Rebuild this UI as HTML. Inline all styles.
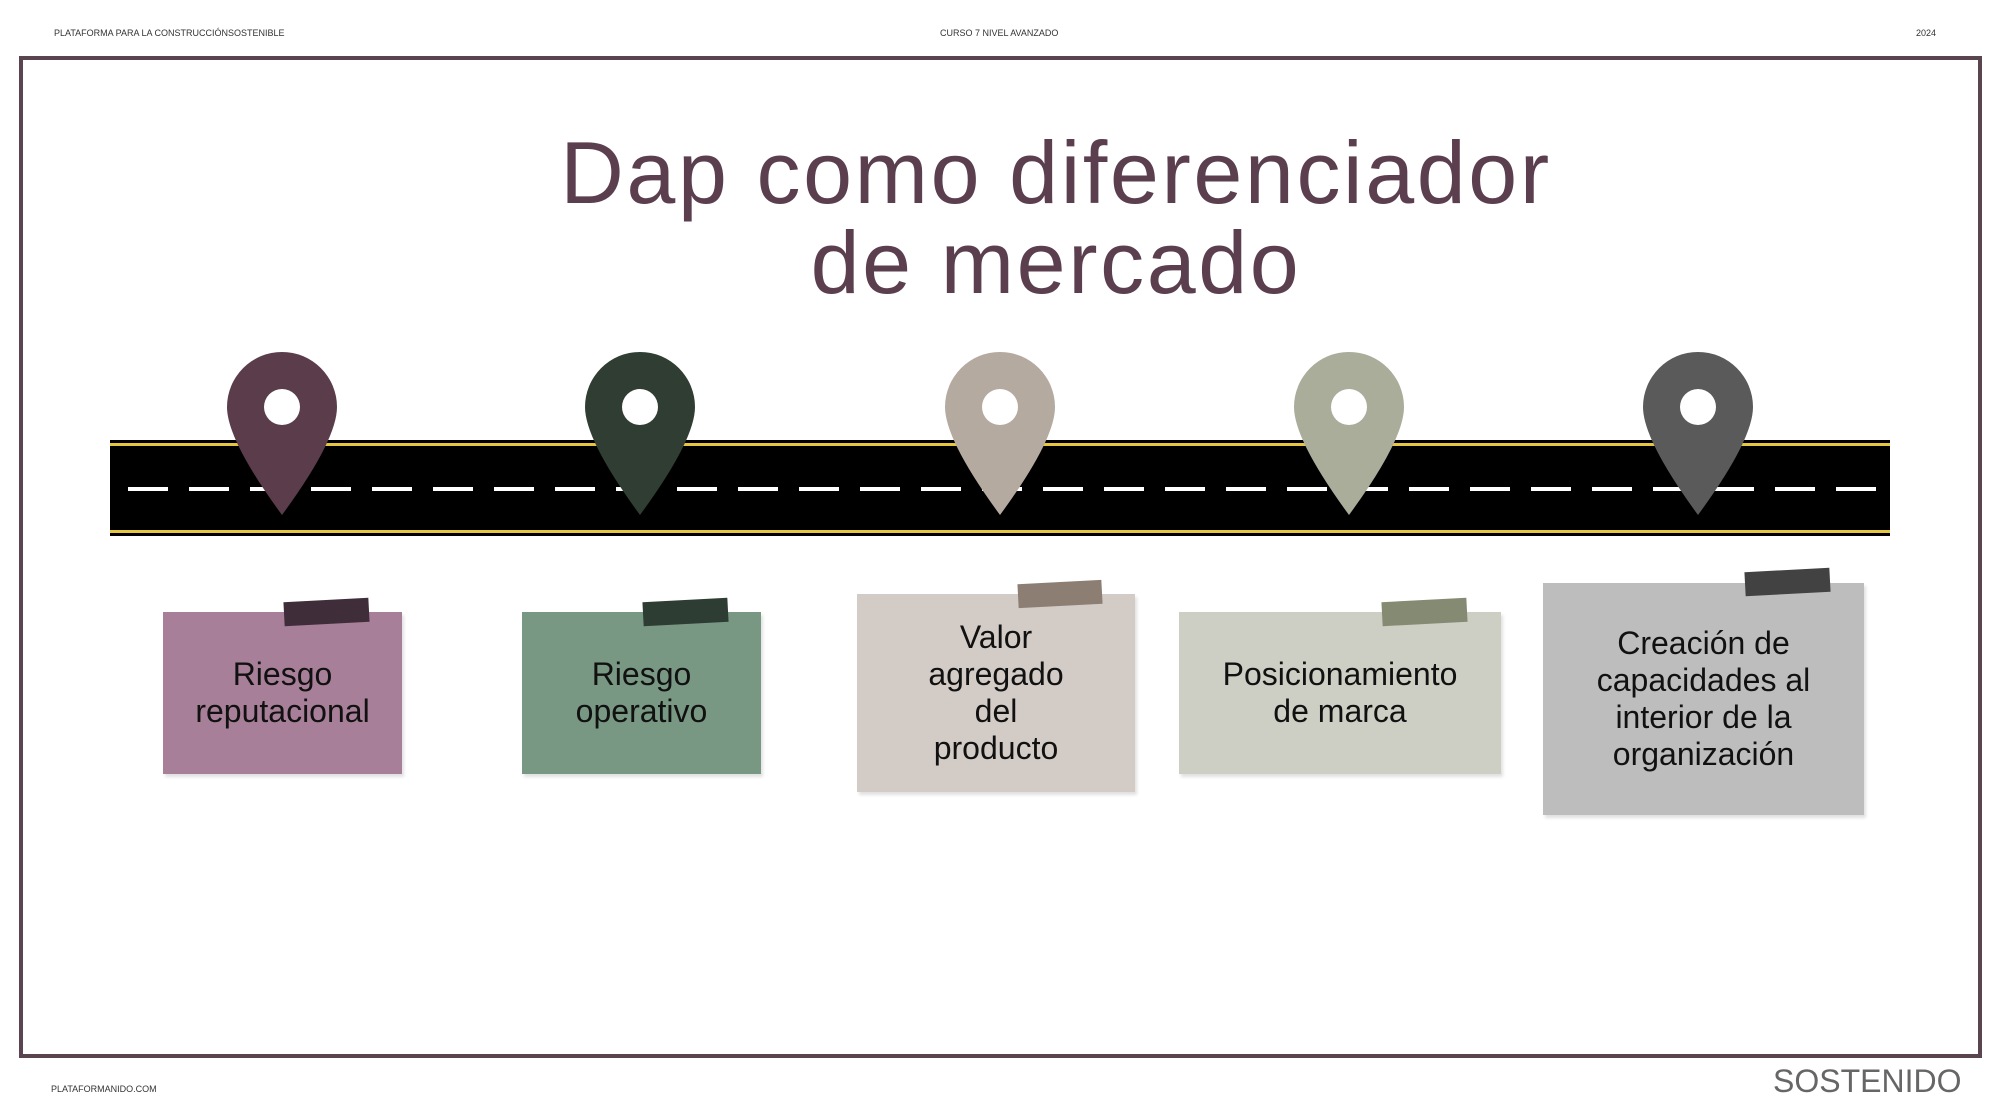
<!DOCTYPE html>
<html><head><meta charset="utf-8"><style>
body{margin:0;width:2000px;height:1113px;background:#fff;position:relative;overflow:hidden;font-family:"Liberation Sans",sans-serif}
.a{position:absolute}
.hd{font-size:9px;color:#333;top:28px}
.frame{left:19px;top:56px;width:1955px;height:994px;border:4px solid #5a4450}
.title{left:0;width:2112px;top:128px;text-align:center;font-size:88px;line-height:90px;color:#5b3f4f;letter-spacing:2.6px}
.note{position:absolute;display:flex;align-items:center;justify-content:center;text-align:center;font-size:32px;line-height:37px;color:#111;box-shadow:2px 3px 3px rgba(0,0,0,.12)}
.tape{position:absolute;height:24px;transform:rotate(-3deg)}
</style></head><body>
<div class="a hd" style="left:54px">PLATAFORMA PARA LA CONSTRUCCIÓNSOSTENIBLE</div>
<div class="a hd" style="left:940px">CURSO 7 NIVEL AVANZADO</div>
<div class="a hd" style="left:1916px">2024</div>
<div class="a frame"></div>
<div class="a title">Dap como diferenciador<br>de mercado</div>
<svg class="a" style="left:0;top:0" width="2000" height="1113">
<rect x="110" y="440" width="1780" height="96" fill="#000"/>
<rect x="110" y="443" width="1780" height="3" fill="#e6c540"/>
<rect x="110" y="530" width="1780" height="3" fill="#e6c540"/>
<line x1="128" y1="489" x2="1890" y2="489" stroke="#fff" stroke-width="4" stroke-dasharray="40 21"/>
<g>
<path d="M227 407 A55 55 0 1 1 337 407 Q337 440 282 515 Q227 440 227 407Z" fill="#5b3c4b"/><circle cx="282" cy="407" r="18" fill="#fff"/>
<path d="M585 407 A55 55 0 1 1 695 407 Q695 440 640 515 Q585 440 585 407Z" fill="#2f3d33"/><circle cx="640" cy="407" r="18" fill="#fff"/>
<path d="M945 407 A55 55 0 1 1 1055 407 Q1055 440 1000 515 Q945 440 945 407Z" fill="#b5aaa0"/><circle cx="1000" cy="407" r="18" fill="#fff"/>
<path d="M1294 407 A55 55 0 1 1 1404 407 Q1404 440 1349 515 Q1294 440 1294 407Z" fill="#a9ad9a"/><circle cx="1349" cy="407" r="18" fill="#fff"/>
<path d="M1643 407 A55 55 0 1 1 1753 407 Q1753 440 1698 515 Q1643 440 1643 407Z" fill="#5a5a5a"/><circle cx="1698" cy="407" r="18" fill="#fff"/>
</g></svg>
<div class="note" style="left:163px;top:612px;width:239px;height:162px;background:#a87f98">Riesgo<br>reputacional</div>
<div class="tape" style="left:284px;top:600px;width:85px;background:#3f2e3a"></div>
<div class="note" style="left:522px;top:612px;width:239px;height:162px;background:#789883">Riesgo<br>operativo</div>
<div class="tape" style="left:643px;top:600px;width:85px;background:#2e3d33"></div>
<div class="note" style="left:857px;top:594px;width:278px;height:198px;background:#d2cbc6">Valor<br>agregado<br>del<br>producto</div>
<div class="tape" style="left:1018px;top:582px;width:84px;background:#8c7e72"></div>
<div class="note" style="left:1179px;top:612px;width:322px;height:162px;background:#cdcfc4">Posicionamiento<br>de marca</div>
<div class="tape" style="left:1382px;top:600px;width:85px;background:#858a73"></div>
<div class="note" style="left:1543px;top:583px;width:321px;height:232px;background:#bdbdbd">Creación de<br>capacidades al<br>interior de la<br>organización</div>
<div class="tape" style="left:1745px;top:570px;width:85px;background:#424242"></div>
<div class="a" style="left:51px;top:1084px;font-size:9px;color:#333">PLATAFORMANIDO.COM</div>
<div class="a" style="left:1773px;top:1063px;font-size:32px;color:#666;letter-spacing:0">SOSTENIDO</div>
</body></html>
